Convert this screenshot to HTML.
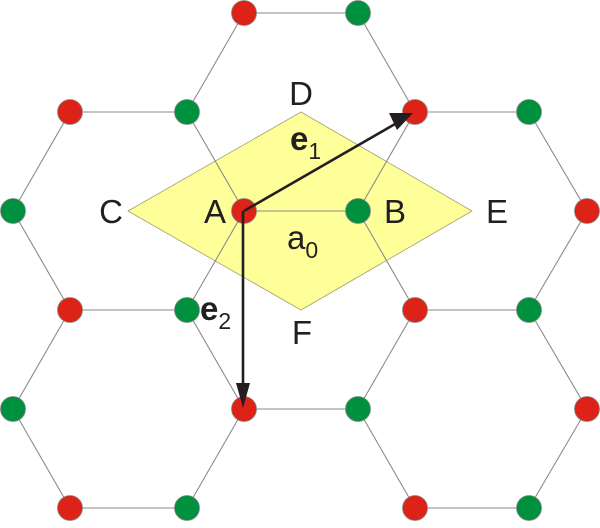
<!DOCTYPE html>
<html><head><meta charset="utf-8"><style>html,body{margin:0;padding:0;background:#fff}</style></head>
<body>
<svg width="600" height="523" viewBox="0 0 600 523" xmlns="http://www.w3.org/2000/svg" font-family="Liberation Sans, sans-serif">
<polygon points="128,211 301,112 472,211 301,310" fill="#ffff99" stroke="#a0a070" stroke-width="0.8"/>
<g stroke="#8a8a8a" stroke-width="1.1" fill="none">
<path d="M244,13H358M70,112H187M415,112H529M244,211H358M70,310H187M415,310H529M244,409H358M70,508H187M415,508H529"/>
<path d="M244,13L187,112M358,13L415,112M70,112L13,211M187,112L244,211M415,112L358,211M529,112L587,211
M13,211L70,310M244,211L187,310M358,211L415,310M587,211L529,310
M70,310L13,409M187,310L244,409M415,310L358,409M529,310L587,409
M13,409L70,508M244,409L187,508M358,409L415,508M587,409L529,508"/>
</g>
<g stroke="#888" stroke-width="0.8">
<g fill="#dd2218">
<circle cx="244" cy="13" r="12.5"/><circle cx="70" cy="112" r="12.5"/><circle cx="415" cy="112" r="12.5"/>
<circle cx="244" cy="211" r="12.5"/><circle cx="587" cy="211" r="12.5"/>
<circle cx="70" cy="310" r="12.5"/><circle cx="415" cy="310" r="12.5"/>
<circle cx="244" cy="409" r="12.5"/><circle cx="587" cy="409" r="12.5"/>
<circle cx="70" cy="508" r="12.5"/><circle cx="415" cy="508" r="12.5"/>
</g>
<g fill="#00913f">
<circle cx="358" cy="13" r="12.5"/><circle cx="187" cy="112" r="12.5"/><circle cx="529" cy="112" r="12.5"/>
<circle cx="13" cy="211" r="12.5"/><circle cx="358" cy="211" r="12.5"/>
<circle cx="187" cy="310" r="12.5"/><circle cx="529" cy="310" r="12.5"/>
<circle cx="13" cy="409" r="12.5"/><circle cx="358" cy="409" r="12.5"/>
<circle cx="187" cy="508" r="12.5"/><circle cx="529" cy="508" r="12.5"/>
</g>
</g>
<g stroke="#231f20" stroke-width="2.6" fill="none">
<path d="M244,211L395,124M243,211V388"/>
</g>
<g fill="#231f20">
<polygon points="413,113 389,113 397,130"/>
<polygon points="243,408 236,383 250,383"/>
</g>
<g fill="#231f20" font-size="33">
<text x="301" y="105" text-anchor="middle">D</text>
<text x="111" y="223" text-anchor="middle">C</text>
<text x="215" y="223" text-anchor="middle">A</text>
<text x="395" y="223" text-anchor="middle">B</text>
<text x="497" y="223" text-anchor="middle">E</text>
<text x="302" y="344" text-anchor="middle">F</text>
<text x="287" y="249">a<tspan font-size="23" dy="9">0</tspan></text>
<text x="290" y="150" font-weight="bold">e<tspan font-weight="normal" font-size="23" dy="9">1</tspan></text>
<text x="200" y="320" font-weight="bold">e<tspan font-weight="normal" font-size="23" dy="9">2</tspan></text>
</g>
</svg>
</body></html>
